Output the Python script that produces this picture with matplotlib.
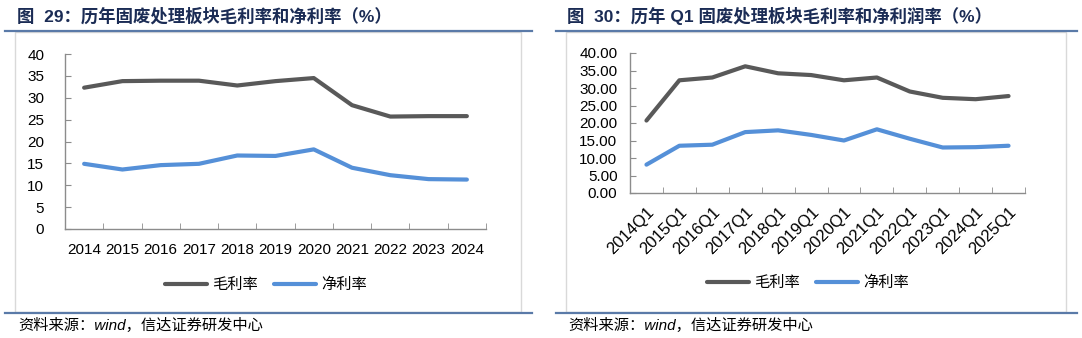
import matplotlib
matplotlib.use("Agg")
import matplotlib.pyplot as plt
from matplotlib.lines import Line2D
from matplotlib.patches import Rectangle

plt.rcParams['font.family'] = ['Liberation Sans', 'Noto Sans CJK SC', 'DejaVu Sans']

# ---------------- data ----------------
years = ['2014', '2015', '2016', '2017', '2018', '2019', '2020', '2021', '2022', '2023', '2024']
gross_annual = [32.3, 33.8, 33.9, 33.9, 32.8, 33.8, 34.5, 28.3, 25.7, 25.8, 25.8]
net_annual = [14.9, 13.6, 14.6, 14.9, 16.8, 16.7, 18.2, 14.0, 12.3, 11.4, 11.3]

quarters = ['2014Q1', '2015Q1', '2016Q1', '2017Q1', '2018Q1', '2019Q1', '2020Q1',
            '2021Q1', '2022Q1', '2023Q1', '2024Q1', '2025Q1']
gross_q1 = [20.7, 32.2, 33.0, 36.2, 34.2, 33.7, 32.2, 33.0, 29.0, 27.2, 26.8, 27.7]
net_q1 = [8.1, 13.5, 13.8, 17.4, 17.9, 16.6, 15.0, 18.2, 15.5, 13.0, 13.1, 13.5]

legend_labels = ['毛利率', '净利率']
title_left = '图  29：历年固废处理板块毛利率和净利率（%）'
title_right = '图  30：历年 Q1 固废处理板块毛利率和净利润率（%）'
source_text = '资料来源：wind，信达证券研发中心'

# ---------------- style ----------------
W, H = 1082, 338
DPI = 100
c_gross = '#595959'
c_net = '#5590d8'
c_title = '#1b2c55'
c_rule = '#5a7aa8'
c_box = '#d9d9d9'
c_axis = '#8c8c8c'

fig = plt.figure(figsize=(W / DPI, H / DPI), dpi=DPI)


def fx(x):
    return x / W


def fy(y):
    return 1 - y / H


def px_axes(x0, y0, x1, y1):
    return fig.add_axes([fx(x0), fy(y1), (x1 - x0) / W, (y1 - y0) / H])


def frame(x0, x1, box_x0, box_x1, title, title_x, src_x):
    fig.text(fx(title_x), fy(16), title, fontsize=12.5, fontweight='bold',
             color=c_title, va='center', ha='left')
    fig.add_artist(Line2D([fx(x0), fx(x1)], [fy(31), fy(31)], color=c_rule, lw=1.6))
    fig.add_artist(Line2D([fx(x0), fx(x1)], [fy(313), fy(313)], color=c_rule, lw=1.6))
    fig.add_artist(Rectangle((fx(box_x0), fy(312)), (box_x1 - box_x0) / W, (312 - 32) / H,
                             fill=False, edgecolor=c_box, lw=1.0))
    fig.text(fx(src_x), fy(325), source_text, fontsize=11, fontstyle='italic',
             color='black', va='center', ha='left')


def style_axes(ax, cats, ymax, step, fmt, rotate, ypad, xpad):
    n = len(cats)
    ax.set_xlim(-0.5, n - 0.5)
    ax.set_ylim(0, ymax)
    for s in ['top', 'right']:
        ax.spines[s].set_visible(False)
    for s in ['left', 'bottom']:
        ax.spines[s].set_color(c_axis)
        ax.spines[s].set_linewidth(1.0)
    ax.set_xticks(range(n))
    if rotate:
        ax.set_xticklabels(cats, rotation=45, ha='right', rotation_mode='anchor', fontsize=12)
    else:
        ax.set_xticklabels(cats, fontsize=11)
    ax.tick_params(axis='x', which='major', length=0, pad=xpad)
    ax.set_xticks([i - 0.5 for i in range(n + 1)], minor=True)
    ax.tick_params(axis='x', which='minor', direction='in', length=4, color=c_axis)
    yt = [i * step for i in range(int(round(ymax / step)) + 1)]
    ax.set_yticks(yt)
    ax.set_yticklabels([fmt.format(v) for v in yt], fontsize=11)
    ax.tick_params(axis='y', direction='in', length=4, color=c_axis, pad=ypad)
    ax.set_facecolor('none')


leg_kw = dict(loc='center', ncol=2, frameon=False, fontsize=11, handlelength=2.7,
              columnspacing=1.1, handletextpad=0.35)

# ---------------- left panel ----------------
frame(5, 532, 15, 521, title_left, 17, 18)
ax1 = px_axes(65, 54, 486, 229)
x1 = list(range(len(years)))
l1, = ax1.plot(x1, gross_annual, color=c_gross, lw=3.0, solid_joinstyle='round', solid_capstyle='round')
l2, = ax1.plot(x1, net_annual, color=c_net, lw=3.0, solid_joinstyle='round', solid_capstyle='round')
style_axes(ax1, years, 40, 5, '{:d}', False, ypad=15, xpad=10)
fig.legend([l1, l2], legend_labels, bbox_to_anchor=(fx(266), fy(285)), **leg_kw)

# ---------------- right panel ----------------
frame(556, 1077, 566, 1066, title_right, 567, 568)
ax2 = px_axes(630, 53, 1025, 193)
x2 = list(range(len(quarters)))
m1, = ax2.plot(x2, gross_q1, color=c_gross, lw=3.0, solid_joinstyle='round', solid_capstyle='round')
m2, = ax2.plot(x2, net_q1, color=c_net, lw=3.0, solid_joinstyle='round', solid_capstyle='round')
style_axes(ax2, quarters, 40, 5, '{:.2f}', True, ypad=9, xpad=8)
fig.legend([m1, m2], legend_labels, bbox_to_anchor=(fx(808), fy(283)), **leg_kw)

fig.savefig('out.png', dpi=DPI)
